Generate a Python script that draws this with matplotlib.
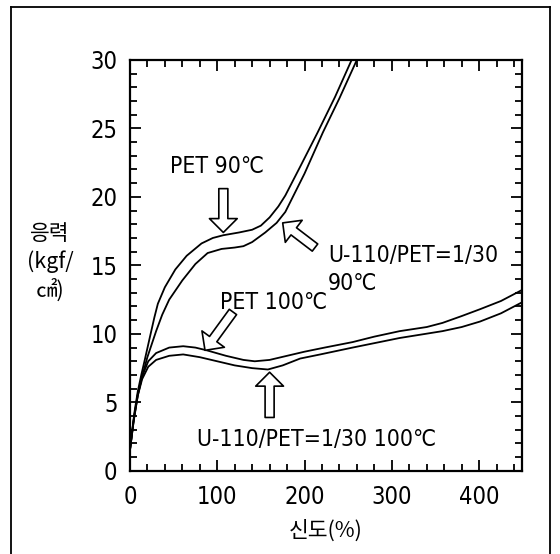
import matplotlib
matplotlib.use("Agg")
import matplotlib.pyplot as plt
from matplotlib import font_manager
from matplotlib.lines import Line2D
from matplotlib.ticker import MultipleLocator

# stress-strain curves (elongation %, stress kgf/cm2)
pet90_x = [0, 5, 9, 13, 17, 23, 28, 32, 40, 52, 65, 82, 95, 107, 125, 140, 150, 160, 170, 178, 195, 215, 235, 254]
pet90_y = [1.5, 4.2, 5.8, 7.0, 8.1, 9.8, 11.2, 12.2, 13.4, 14.7, 15.7, 16.6, 17.0, 17.2, 17.4, 17.6, 17.9, 18.5, 19.3, 20.1, 22.2, 24.7, 27.3, 30.0]

u90_x = [0, 5, 9, 14, 20, 30, 37, 45, 60, 75, 89, 105, 120, 130, 140, 155, 168, 178, 200, 221, 240, 260]
u90_y = [1.5, 4.0, 5.5, 6.9, 8.3, 10.2, 11.4, 12.5, 13.9, 15.1, 15.9, 16.2, 16.3, 16.4, 16.7, 17.4, 18.1, 18.9, 21.7, 24.7, 27.2, 30.0]

pet100_x = [0, 4, 9, 14, 21, 30, 45, 61, 75, 88, 110, 130, 143, 160, 180, 200, 223, 255, 280, 309, 340, 358, 380, 401, 425, 449]
pet100_y = [1.5, 3.6, 5.6, 6.9, 8.0, 8.6, 9.0, 9.1, 9.0, 8.8, 8.4, 8.1, 8.0, 8.1, 8.4, 8.7, 9.0, 9.4, 9.8, 10.2, 10.5, 10.8, 11.3, 11.8, 12.4, 13.2]

u100_x = [0, 4, 9, 14, 21, 30, 45, 61, 80, 100, 120, 140, 158, 175, 195, 218, 255, 309, 358, 380, 401, 425, 449]
u100_y = [1.5, 3.5, 5.5, 6.7, 7.6, 8.1, 8.4, 8.5, 8.3, 8.0, 7.7, 7.5, 7.4, 7.7, 8.2, 8.5, 9.0, 9.7, 10.2, 10.5, 10.9, 11.5, 12.3]

x_max = 449
y_max = 30

# a narrow latin face if one is there, else plain Liberation Sans
base, stretch = "Liberation Sans", "normal"
for f in font_manager.fontManager.ttflist:
    fn = f.fname.lower()
    if "narrow" in fn and "liberation" in fn:
        base, stretch = f.name, "normal"
        break
    if "dejavusanscondensed" in fn.replace("-", ""):
        base, stretch = f.name, "condensed"
plt.rcParams["font.family"] = [base, "Noto Sans CJK KR", "DejaVu Sans"]
plt.rcParams["font.stretch"] = stretch

fig = plt.figure(figsize=(5.6, 5.54), dpi=100)
ax = fig.add_axes([0.232, 0.150, 0.700, 0.742])

for xs, ys in [(pet90_x, pet90_y), (u90_x, u90_y), (pet100_x, pet100_y), (u100_x, u100_y)]:
    ax.plot(xs, ys, color="black", lw=1.3, solid_joinstyle="round")

ax.set_xlim(0, x_max)
ax.set_ylim(0, y_max)
ax.xaxis.set_major_locator(MultipleLocator(100))
ax.xaxis.set_minor_locator(MultipleLocator(20))
ax.yaxis.set_major_locator(MultipleLocator(5))
ax.yaxis.set_minor_locator(MultipleLocator(1))
ax.tick_params(which="both", direction="in", top=True, right=True, width=1.3, labelsize=17)
ax.tick_params(which="major", length=8)
ax.tick_params(which="minor", length=5)
ax.tick_params(axis="x", pad=10)
ax.tick_params(axis="y", pad=9)
for s in ax.spines.values():
    s.set_linewidth(1.6)

# hollow block arrows
style = "simple,head_length=1.0,head_width=2.0,tail_width=0.65"
arrows = [((107, 17.4), (107, 20.6)),
          ((175, 18.1), (212, 16.3)),
          ((86, 8.8), (118, 11.6)),
          ((160, 7.2), (160, 3.9))]
for tip, tail in arrows:
    ax.annotate("", xy=tip, xytext=tail,
                arrowprops=dict(arrowstyle=style, mutation_scale=10, fc="white",
                                ec="black", lw=1.2, shrinkA=0, shrinkB=0))

tsize = 16.5
ax.text(100, 22.2, "PET 90℃", ha="center", va="center", fontsize=tsize)
ax.text(227, 15.7, "U-110/PET=1/30", ha="left", va="center", fontsize=tsize)
ax.text(227, 13.7, "90℃", ha="left", va="center", fontsize=tsize)
ax.text(103, 12.3, "PET 100℃", ha="left", va="center", fontsize=tsize)
ax.text(77, 2.3, "U-110/PET=1/30 100℃", ha="left", va="center", fontsize=tsize)

fig.text(50 / 560, 1 - 262 / 554, "응력\n(kgf/\n㎠)", ha="center", va="center",
         fontsize=15.5, linespacing=1.3, family=["Noto Sans CJK KR", "DejaVu Sans"])
fig.text(326 / 560, 1 - 531 / 554, "신도(%)", ha="center", va="center",
         fontsize=15.5, family=["Noto Sans CJK KR", "DejaVu Sans"])

# outer frame of the figure
fl, fr, ft = 11 / 560, 550 / 560, 1 - 7 / 554
for xs, ys in [([fl, fl], [-0.01, ft]), ([fl, fr], [ft, ft]), ([fr, fr], [ft, -0.01])]:
    fig.add_artist(Line2D(xs, ys, transform=fig.transFigure, color="black", lw=1.3))

fig.savefig("out.png", dpi=100)
